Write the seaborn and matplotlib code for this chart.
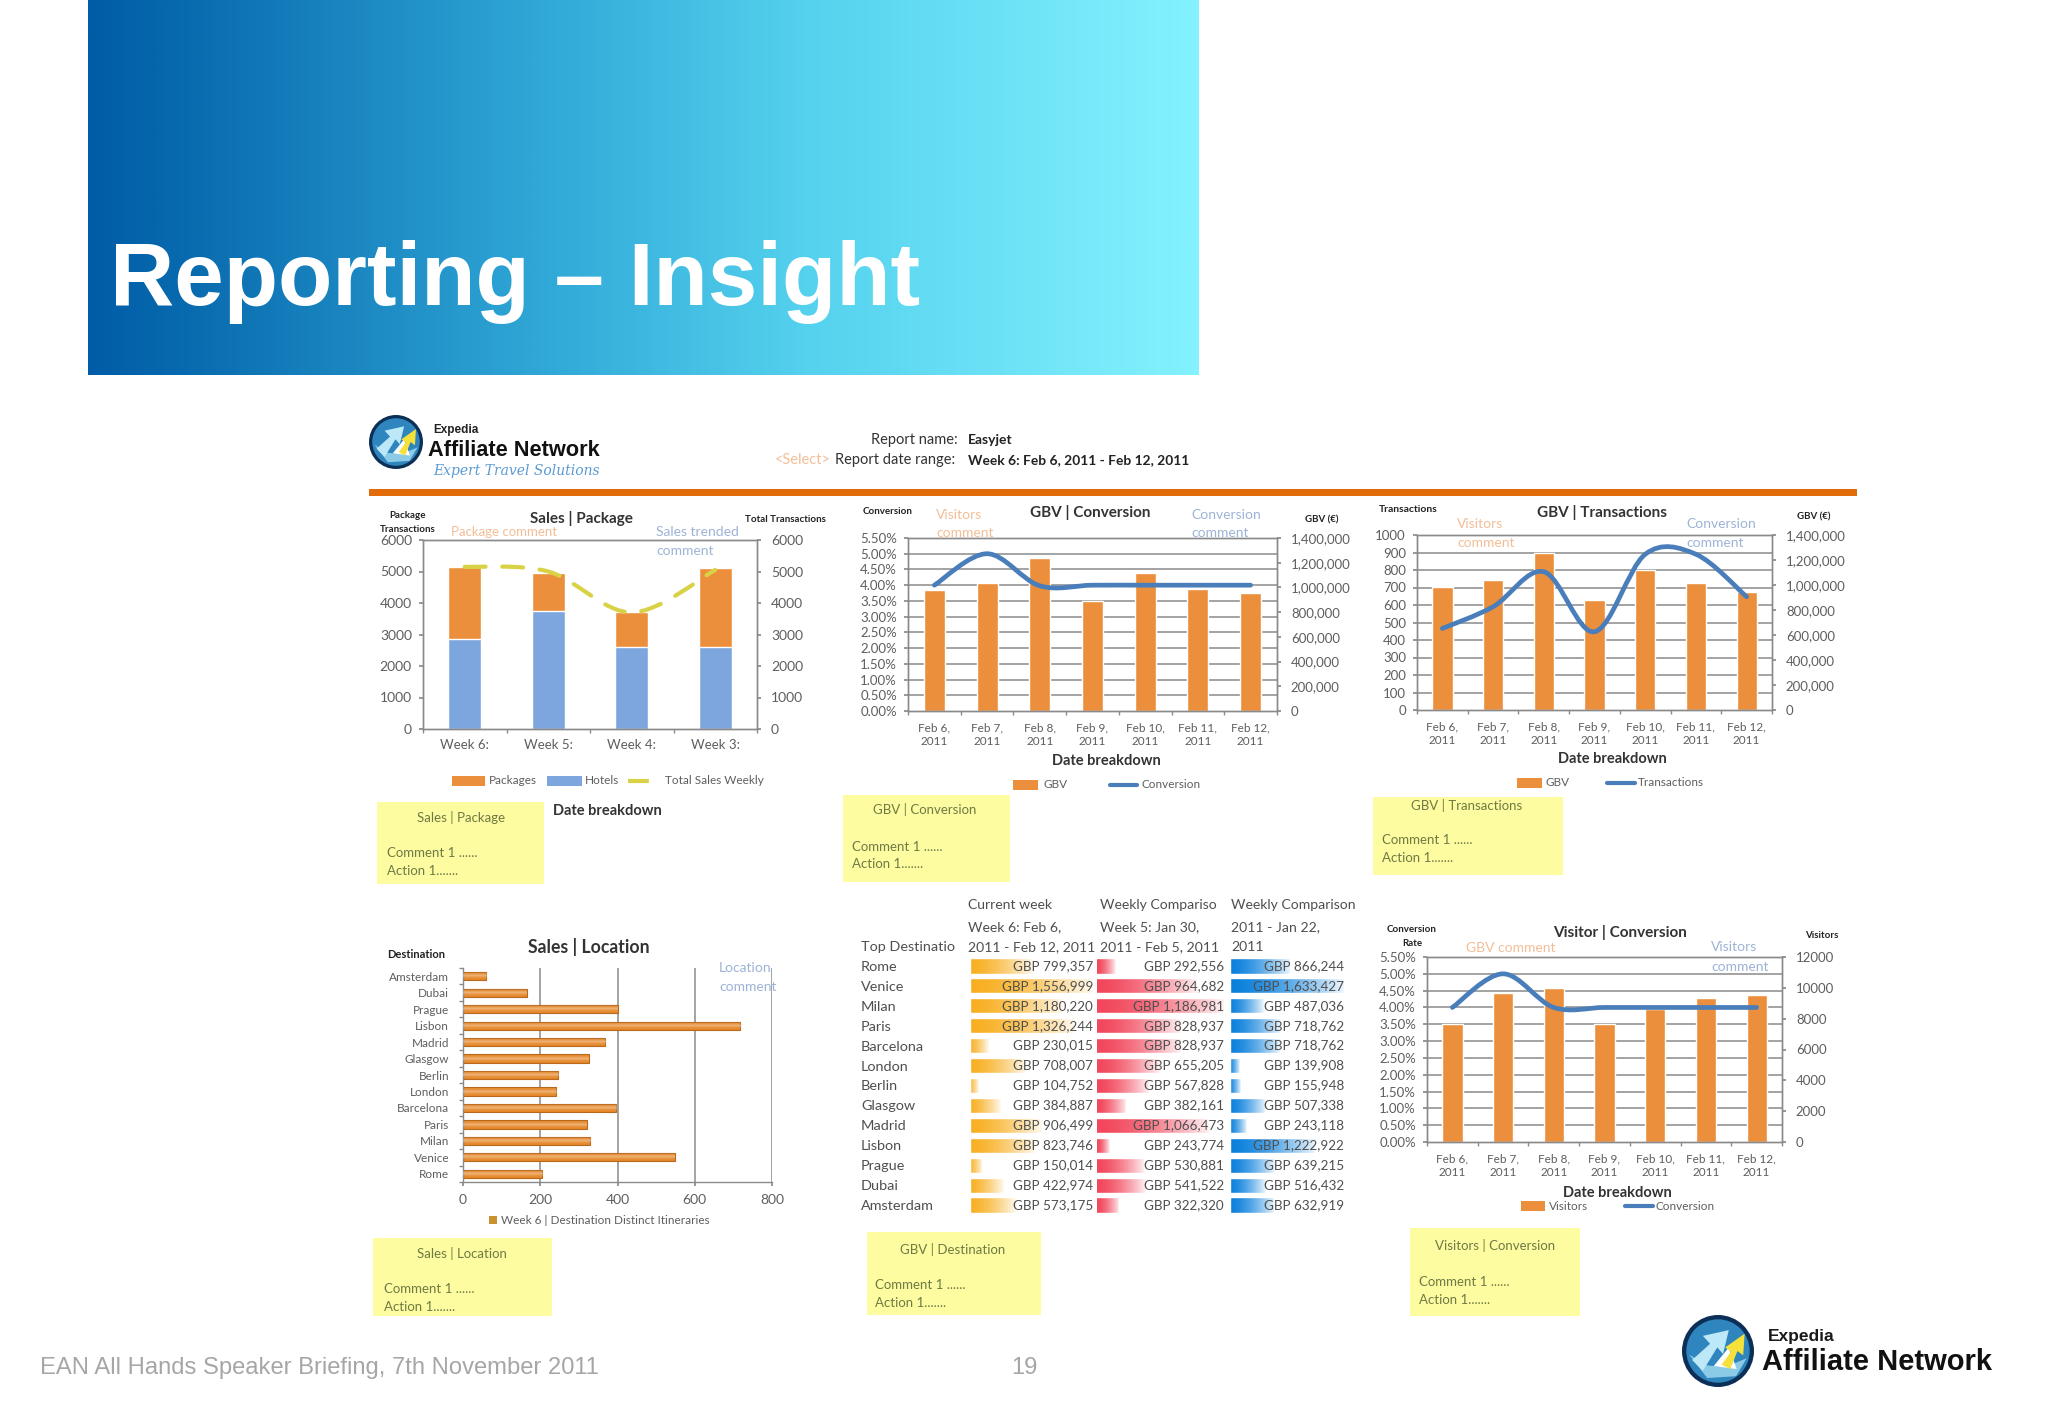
import numpy as np
import matplotlib
matplotlib.use("Agg")
import matplotlib.pyplot as plt
import seaborn as sns
from matplotlib.patches import Rectangle, Circle, Polygon, PathPatch
from matplotlib.path import Path
from matplotlib.colors import LinearSegmentedColormap

# ---------- data ----------
weeks = ["Week 6:", "Week 5:", "Week 4:", "Week 3:"]
hotels = [2850, 3750, 2600, 2600]
packages = [2280, 1200, 1100, 2500]
total_sales = [5150, 5000, 3700, 5050]

dates = ["Feb 6,\n2011", "Feb 7,\n2011", "Feb 8,\n2011", "Feb 9,\n2011",
         "Feb 10,\n2011", "Feb 11,\n2011", "Feb 12,\n2011"]
gbv_a = [977000, 1036000, 1238000, 891000, 1117000, 990000, 956000]
conversion_a = [4.00, 5.00, 3.98, 4.00, 4.00, 4.00, 4.00]
gbv_b = [986000, 1039000, 1253000, 879000, 1119000, 1018000, 946000]
transactions = [466, 590, 790, 447, 890, 890, 647]
visitors = [7680, 9660, 10010, 7680, 8650, 9360, 9510]
conversion_b = [4.00, 5.00, 4.00, 4.00, 4.00, 4.00, 4.00]

loc_names = ["Amsterdam", "Dubai", "Prague", "Lisbon", "Madrid", "Glasgow", "Berlin",
             "London", "Barcelona", "Paris", "Milan", "Venice", "Rome"]
loc_values = [60, 165, 400, 718, 368, 325, 247, 242, 397, 320, 330, 548, 205]

cities = ["Rome", "Venice", "Milan", "Paris", "Barcelona", "London", "Berlin",
          "Glasgow", "Madrid", "Lisbon", "Prague", "Dubai", "Amsterdam"]
gbp_week6 = [799357, 1556999, 1180220, 1326244, 230015, 708007, 104752,
             384887, 906499, 823746, 150014, 422974, 573175]
gbp_week5 = [292556, 964682, 1186981, 828937, 828937, 655205, 567828,
             382161, 1066473, 243774, 530881, 541522, 322320]
gbp_week4 = [866244, 1633427, 487036, 718762, 718762, 139908, 155948,
             507338, 243118, 1222922, 639215, 516432, 632919]

sales_ticks = [0, 1000, 2000, 3000, 4000, 5000, 6000]
pct_ticks = [0, .5, 1, 1.5, 2, 2.5, 3, 3.5, 4, 4.5, 5, 5.5]
gbv_ticks = [0, 200000, 400000, 600000, 800000, 1000000, 1200000, 1400000]
trans_ticks = [0, 100, 200, 300, 400, 500, 600, 700, 800, 900, 1000]
visitor_ticks = [0, 2000, 4000, 6000, 8000, 10000, 12000]
loc_ticks = [0, 200, 400, 600, 800]

# ---------- style ----------
W, H = 2048, 1418
ORANGE, BLUE, LINE = "#EC8F3C", "#7EA6DE", "#4A7EBB"
GRID, TICK, DARK = "#8A8A8A", "#5E5E5E", "#333333"
NOTE, NOTE_TX = "#FDFCA0", "#6F7A45"
C_OR, C_BL = "#F3BE97", "#9DB3D6"

sns.set_theme(style="white")
plt.rcParams["font.family"] = ["Lato", "DejaVu Sans"]
fig = plt.figure(figsize=(W / 100, H / 100), dpi=100, facecolor="white")

fg = fig.add_axes([0, 0, 1, 1], zorder=10)
fg.set_xlim(0, W)
fg.set_ylim(H, 0)
fg.axis("off")
fg.patch.set_visible(False)
fg.set_autoscale_on(False)


def T(x, y, s, size=9, color=DARK, ha="left", weight="normal", family=None, style="normal"):
    kw = {"family": family} if family else {}
    return fg.text(x, y, s, fontsize=size, color=color, ha=ha, va="center",
                   fontweight=weight, fontstyle=style, **kw)


def box(l, t, r, b, **kw):
    a = fig.add_axes([l / W, 1 - b / H, (r - l) / W, (b - t) / H], **kw)
    a.patch.set_visible(False)
    return a


def style_axis(a):
    for s in a.spines.values():
        s.set_color(GRID)
        s.set_linewidth(1.0)
    a.set_xlabel("")
    a.set_ylabel("")


def smooth_curve(a, xs, ys, color, lw, ls="-"):
    p = np.column_stack([xs, ys]).astype(float)
    n = len(p)
    verts, codes = [p[0]], [Path.MOVETO]
    for i in range(n - 1):
        p0, p1, p2, p3 = p[max(i - 1, 0)], p[i], p[i + 1], p[min(i + 2, n - 1)]
        verts += [p1 + (p2 - p0) / 6, p2 - (p3 - p1) / 6, p2]
        codes += [Path.CURVE4] * 3
    a.add_patch(PathPatch(Path(verts, codes), fill=False, edgecolor=color, lw=lw,
                          linestyle=ls, capstyle="round", zorder=5))


def combo(rect, cats, bars, line, lt, lfmt, rt, rfmt, color=ORANGE, under=None,
          line_color=LINE, lw=3.4, ls="-", xsize=8.5, xpad=8, lsize=9.5):
    ax = box(*rect, zorder=3)
    axr = ax.twinx()
    axr.set_zorder(2)
    axr.patch.set_visible(False)
    ax.patch.set_visible(False)
    x = np.arange(len(cats))
    sns.barplot(x=cats, y=bars, color=color, width=0.4, saturation=1, ax=axr)
    if under is not None:
        sns.barplot(x=cats, y=under, color=BLUE, width=0.4, saturation=1, ax=axr)
    rmax, lmax = rt[-1], lt[-1]
    axr.set_ylim(0, rmax)
    ax.set_ylim(0, lmax)
    ax.set_xlim(-0.5, len(cats) - 0.5)
    axr.set_yticks(rt, [rfmt(v) for v in rt])
    axr.set_yticks([t * rmax / lmax for t in lt], minor=True)
    axr.grid(True, which="minor", axis="y", color=GRID, lw=1.1)
    axr.grid(False, which="major")
    axr.set_axisbelow(True)
    axr.tick_params(axis="y", which="major", length=3, color=GRID, labelsize=lsize,
                    labelcolor=TICK, right=True, pad=7)
    axr.tick_params(axis="y", which="minor", length=0)
    ax.set_yticks(lt, [lfmt(v) for v in lt])
    ax.tick_params(axis="y", length=3, color=GRID, labelsize=lsize, labelcolor=TICK, left=True, pad=5)
    ax.set_xticks(x, cats)
    ax.set_xticks(np.arange(len(cats) + 1) - 0.5, minor=True)
    ax.tick_params(axis="x", which="major", length=0, labelsize=xsize, labelcolor=TICK, pad=xpad)
    ax.tick_params(axis="x", which="minor", length=3, color=GRID, bottom=True)
    for lab in ax.get_xticklabels():
        lab.set_linespacing(1.35)
    axr.tick_params(axis="x", bottom=False, labelbottom=False)
    style_axis(ax)
    style_axis(axr)
    smooth_curve(ax, x, line, line_color, lw, ls)
    return ax, axr


def fmt_int(v):
    return f"{v:d}"


def fmt_k(v):
    return f"{v:,}"


def fmt_pct(v):
    return f"{v:.2f}%"


def note(l, t, r, b, title, tx, ty, cx, cy, ay):
    fg.add_patch(Rectangle((l, t), r - l, b - t, fc=NOTE, ec="none", zorder=1))
    T(tx, ty, title, 9.5, NOTE_TX, "center")
    T(cx, cy, "Comment 1 ......", 9.5, NOTE_TX)
    T(cx, ay, "Action 1.......", 9.5, NOTE_TX)


def logo(cx, cy, r):
    fg.add_patch(Circle((cx, cy), r, fc="#0C2F57", ec="none", zorder=2))
    fg.add_patch(Circle((cx, cy), r * .88, fc="#2F86BE", ec="none", zorder=2))
    sw = [(-.8, .1), (-.3, .75), (.5, .7), (.8, .2), (.2, .45), (-.3, .4)]
    fg.add_patch(Polygon([(cx + a * r, cy + b * r) for a, b in sw], fc="#8CCBE6", ec="none", zorder=2))
    blue = [(-.72, .25), (-.22, -.2), (-.42, -.42), (.3, -.58), (.14, .08), (-.02, -.1), (-.42, .55)]
    white = [(-.12, .42), (.3, -.1), (.52, .5)]
    yellow = [(.1, .38), (.36, .02), (.2, -.1), (.74, -.48), (.7, .12), (.54, .0), (.34, .5)]
    for pts, c in ((blue, "#BDE8F7"), (white, "#FFFFFF"), (yellow, "#F5E13A")):
        fg.add_patch(Polygon([(cx + a * r, cy + b * r) for a, b in pts], fc=c, ec="none", zorder=3))


# ---------- header ----------
grad = LinearSegmentedColormap.from_list(
    "hdr", [(0, "#005CA6"), (.1, "#0A6DB0"), (.4, "#2FA6D6"), (.65, "#55D2EE"), (1, "#84F2FF")])
fg.imshow(np.linspace(0, 1, 512)[None, :], cmap=grad, extent=(88, 1199, 375, 0), aspect="auto", zorder=0)
T(110, 282, "Reporting – Insight", 64, "white", weight="bold", family="Liberation Sans")

# ---------- report heading ----------
logo(396, 442, 27)
T(433, 430, "Expedia", 8.5, "#222222", weight="bold", family="Liberation Sans")
T(428, 450, "Affiliate Network", 15.7, "#111111", weight="bold", family="Liberation Sans")
T(433, 471, "Expert Travel Solutions", 10, "#5B9BD5", style="italic", family="DejaVu Serif")
T(871, 440, "Report name:", 10.5, "#333333")
T(968, 440, "Easyjet", 10, "#222222", weight="bold")
T(775, 460, "<Select>", 10.5, "#F3BE97")
T(835, 460, "Report date range:", 10.5, "#333333")
T(968, 460, "Week 6: Feb 6, 2011 - Feb 12, 2011", 9.9, "#222222", weight="bold")
fg.add_patch(Rectangle((369, 489), 1488, 7, fc="#E36C0A", ec="none"))

# ---------- Sales | Package ----------
totals = [h + p for h, p in zip(hotels, packages)]
ax1, ax1r = combo((423, 540, 757, 729), weeks, totals, total_sales, sales_ticks, fmt_int,
                  sales_ticks, fmt_int, under=hotels, line_color="#D9D247", lw=3,
                  ls=(0, (5, 4)), xsize=9.5, xpad=7, lsize=10)
T(408, 516, "Package", 7, "#222222", "center", "bold")
T(408, 529, "Transactions", 7, "#222222", "center", "bold")
T(581, 518, "Sales | Package", 11, DARK, "center", "bold")
T(785, 520, "Total Transactions", 7, "#222222", "center", "bold")
T(451, 532, "Package comment", 9.5, C_OR)
T(656, 532, "Sales trended", 10, C_BL)
T(656, 551, "comment", 10, C_BL)
fg.add_patch(Rectangle((452, 776), 33, 10, fc=ORANGE, ec="none"))
T(489, 781, "Packages", 8.5, TICK)
fg.add_patch(Rectangle((547, 776), 35, 10, fc=BLUE, ec="none"))
T(585, 781, "Hotels", 8.5, TICK)
fg.plot([628, 663], [781, 781], color="#D9D247", lw=3, ls=(0, (5, 4)))
T(665, 781, "Total Sales Weekly", 8.5, TICK)
T(553, 811, "Date breakdown", 10.5, DARK, weight="bold")
note(377, 802, 544, 884, "Sales | Package", 461, 817, 387, 853, 871)

# ---------- GBV | Conversion ----------
combo((908, 538, 1277, 711), dates, gbv_a, conversion_a, pct_ticks, fmt_pct, gbv_ticks, fmt_k)
T(888, 512, "Conversion", 7, "#222222", "center", "bold")
T(1090, 513, "GBV | Conversion", 11, DARK, "center", "bold")
T(1322, 520, "GBV (€)", 7, "#222222", "center", "bold")
T(936, 515, "Visitors", 10, C_OR)
T(936, 533, "comment", 10, C_OR)
T(1191, 515, "Conversion", 10, C_BL)
T(1191, 533, "comment", 10, C_BL)
T(1106, 761, "Date breakdown", 10.5, DARK, "center", "bold")
fg.add_patch(Rectangle((1013, 780), 25, 10, fc=ORANGE, ec="none"))
T(1043, 785, "GBV", 8.5, TICK)
fg.plot([1110, 1137], [785, 785], color=LINE, lw=3)
T(1141, 785, "Conversion", 8.5, TICK)
note(843, 795, 1010, 882, "GBV | Conversion", 925, 810, 852, 847, 864)

# ---------- GBV | Transactions ----------
combo((1417, 535, 1772, 710), dates, gbv_b, transactions, trans_ticks, fmt_int, gbv_ticks, fmt_k)
T(1408, 509, "Transactions", 7.5, "#222222", "center", "bold")
T(1602, 512, "GBV | Transactions", 11, DARK, "center", "bold")
T(1814, 517, "GBV (€)", 7, "#222222", "center", "bold")
T(1457, 524, "Visitors", 10, C_OR)
T(1457, 543, "comment", 10, C_OR)
T(1686, 524, "Conversion", 10, C_BL)
T(1686, 543, "comment", 10, C_BL)
T(1612, 759, "Date breakdown", 10.5, DARK, "center", "bold")
fg.add_patch(Rectangle((1517, 778), 25, 10, fc=ORANGE, ec="none"))
T(1545, 783, "GBV", 8.5, TICK)
fg.plot([1607, 1635], [783, 783], color=LINE, lw=3)
T(1638, 783, "Transactions", 8.5, TICK)
note(1373, 797, 1563, 875, "GBV | Transactions", 1467, 806, 1382, 840, 858)

# ---------- Sales | Location ----------
ax4 = box(463, 968, 772, 1182)
sns.barplot(x=loc_values, y=loc_names, orient="h", color="#E5882A", width=0.5, saturation=1,
            edgecolor="#B86A1C", linewidth=0.8, ax=ax4)
ax4.set_xlim(0, 800)
ax4.set_ylim(12.5, -0.5)
ax4.set_autoscale_on(False)
shade = np.ones((16, 1, 4))
shade[:, 0, 3] = 0.4 * (1 - np.abs(np.linspace(-1, 1, 16))) ** 2
for p in ax4.patches:
    ax4.imshow(shade, extent=(0, p.get_width(), p.get_y() + p.get_height(), p.get_y()),
               aspect="auto", zorder=3)
ax4.set_xticks(loc_ticks, [str(v) for v in loc_ticks])
ax4.grid(True, axis="x", color=GRID, lw=1.1)
ax4.set_axisbelow(True)
ax4.set_yticks(np.arange(14) - 0.5, minor=True)
ax4.tick_params(axis="y", which="major", length=0, labelsize=8.5, labelcolor=TICK, pad=10)
ax4.tick_params(axis="y", which="minor", length=3, color=GRID, left=True)
ax4.tick_params(axis="x", length=3, color=GRID, bottom=True, labelsize=10, labelcolor=TICK, pad=6)
style_axis(ax4)
ax4.spines["top"].set_visible(False)
ax4.spines["right"].set_visible(False)
T(416, 955, "Destination", 8, "#222222", "center", "bold")
T(589, 947, "Sales | Location", 12.7, DARK, "center", "bold")
T(719, 968, "Location", 10, C_BL)
T(719, 987, "comment", 10, C_BL)
fg.add_patch(Rectangle((489, 1216), 8, 8, fc="#C9922F", ec="none"))
T(501, 1220, "Week 6 | Destination Distinct Itineraries", 8.5, TICK)
note(373, 1238, 552, 1316, "Sales | Location", 462, 1254, 384, 1289, 1307)

# ---------- GBV | Destination table ----------
columns = [(966, 1093, gbp_week6, "#F8AE1E"), (1097, 1224, gbp_week5, "#F2475C"), (1228, 1344, gbp_week4, "#0A80DC")]
fade = np.ones((1, 256, 4))
fade[0, :, 3] = np.linspace(0, 0.96, 256) ** 1.6
for i, (l, r, vals, col) in enumerate(columns):
    a = box(l, 956, r, 1215)
    sns.barplot(x=vals, y=cities, orient="h", color=col, width=0.76, saturation=1, ax=a)
    hi, lo = max(vals), min(vals)
    left = lo - (hi - lo) / 9
    a.set_xlim(left, hi)
    a.set_ylim(12.5, -0.5)
    a.set_autoscale_on(False)
    for p in a.patches:
        a.imshow(fade, extent=(left, p.get_width(), p.get_y() + p.get_height(), p.get_y()),
                 aspect="auto", zorder=3)
    for k, v in enumerate(vals):
        a.text(1.0, k, f"GBP {v:,}", transform=a.get_yaxis_transform(), ha="right", va="center",
               fontsize=9.7, color="#4F4F4F", zorder=5, clip_on=False)
    a.set_xticks([])
    a.set_xlabel("")
    a.set_ylabel("")
    sns.despine(ax=a, left=True, bottom=True)
    if i == 0:
        a.tick_params(axis="y", length=0, labelsize=10.4, labelcolor="#4F4F4F", pad=75.6)
        for lab in a.get_yticklabels():
            lab.set_ha("left")
    else:
        a.set_yticks([])
T(861, 947, "Top Destinatio", 10.4, "#4F4F4F")
headers = [(968, ["Current week", "Week 6: Feb 6,", "2011 - Feb 12, 2011"]),
           (1100, ["Weekly Compariso", "Week 5: Jan 30,", "2011 - Feb 5, 2011"]),
           (1231, ["Weekly Comparison", "2011 - Jan 22,", "2011"])]
for hx, lines in headers:
    for hy, s in zip((905, 927, 947), lines):
        T(hx, hy, s, 10.1, "#4F4F4F")
note(867, 1232, 1041, 1315, "GBV | Destination", 953, 1249, 875, 1285, 1303)

# ---------- Visitor | Conversion ----------
combo((1427, 957, 1782, 1142), dates, visitors, conversion_b, pct_ticks, fmt_pct, visitor_ticks, fmt_int)
T(1412, 929, "Conversion", 7, "#222222", "center", "bold")
T(1412, 944, "Rate", 7, "#222222", "center", "bold")
T(1620, 933, "Visitor | Conversion", 11, DARK, "center", "bold")
T(1822, 936, "Visitors", 7, "#222222", "center", "bold")
T(1466, 948, "GBV comment", 10, C_OR)
T(1711, 947, "Visitors", 10, C_BL)
T(1711, 967, "comment", 10, C_BL)
T(1617, 1193, "Date breakdown", 10.5, DARK, "center", "bold")
fg.add_patch(Rectangle((1521, 1201), 24, 10, fc=ORANGE, ec="none"))
T(1549, 1206, "Visitors", 8.5, TICK)
fg.plot([1625, 1653], [1206, 1206], color=LINE, lw=3)
T(1655, 1206, "Conversion", 8.5, TICK)
note(1410, 1228, 1580, 1316, "Visitors | Conversion", 1495, 1246, 1419, 1282, 1300)

# ---------- footer ----------
T(40, 1368, "EAN All Hands Speaker Briefing, 7th November 2011", 17.1, "#A6A6A6", family="Liberation Sans")
T(1024, 1368, "19", 17.1, "#A6A6A6", "center", family="Liberation Sans")
logo(1718, 1351, 36)
T(1768, 1336, "Expedia", 12.5, "#1A1A1A", weight="bold", family="Liberation Sans")
T(1762, 1362, "Affiliate Network", 21, "#111111", weight="bold", family="Liberation Sans")

fg.set_xlim(0, W)
fg.set_ylim(H, 0)
fig.savefig("out.png", dpi=100, facecolor="white")
